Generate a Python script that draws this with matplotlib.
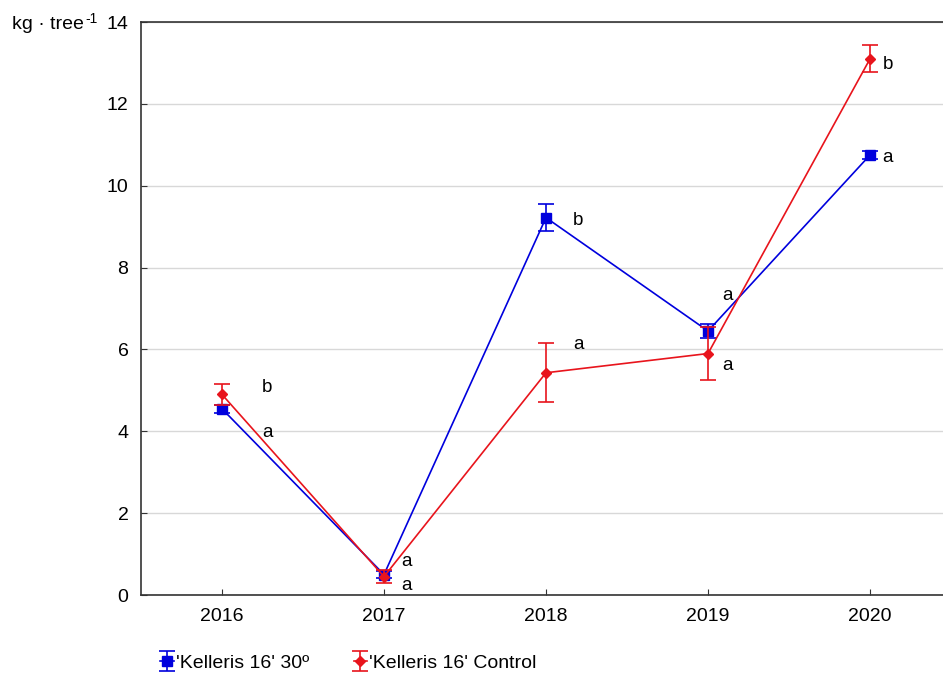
import matplotlib
matplotlib.use("Agg")
import matplotlib.pyplot as plt

plt.rcParams['font.family'] = ['Liberation Sans', 'DejaVu Sans']

years = [2016, 2017, 2018, 2019, 2020]
kel30 = [4.55, 0.50, 9.22, 6.45, 10.75]
kel30_err = [0.10, 0.08, 0.33, 0.17, 0.10]
ctrl = [4.90, 0.45, 5.43, 5.90, 13.10]
ctrl_err = [0.25, 0.15, 0.72, 0.65, 0.33]

labels30 = ['a', 'a', 'b', 'a', 'a']
labels_ctrl = ['b', 'a', 'a', 'a', 'b']
# letter positions (x offset from year, y value)
pos30 = [(0.28, 3.96), (0.14, 0.81), (0.20, 9.14), (0.12, 7.31), (0.11, 10.70)]
pos_ctrl = [(0.28, 5.08), (0.14, 0.24), (0.20, 6.11), (0.12, 5.60), (0.11, 12.95)]

fig = plt.figure(figsize=(9.43, 6.77), dpi=100)
ax = fig.add_axes([0.1495, 0.1211, 0.859, 0.8464])

blue = '#0000dd'
red = '#e8141c'

h1 = ax.errorbar(years, kel30, yerr=kel30_err, color=blue, marker='s', markersize=7,
                 lw=1.2, capsize=6, capthick=1.2, elinewidth=1.2,
                 label="'Kelleris 16' 30º", zorder=3)
h2 = ax.errorbar(years, ctrl, yerr=ctrl_err, color=red, marker='D', markersize=5,
                 lw=1.2, capsize=6, capthick=1.2, elinewidth=1.2,
                 label="'Kelleris 16' Control", zorder=4)

for y, lab, (dx, ly) in zip(years, labels30, pos30):
    ax.text(y + dx, ly, lab, fontsize=13.5, ha='center', va='center')
for y, lab, (dx, ly) in zip(years, labels_ctrl, pos_ctrl):
    ax.text(y + dx, ly, lab, fontsize=13.5, ha='center', va='center')

ax.set_xlim(2015.5, 2020.5)
ax.set_ylim(0, 14)
ax.set_xticks(years)
ax.set_yticks(range(0, 15, 2))
ax.tick_params(direction='in', labelsize=14, length=4, color='#333333')
ax.tick_params(axis='x', pad=9)
ax.tick_params(axis='y', pad=9)
ax.yaxis.grid(True, color='#d8d8d8', lw=1)
ax.set_axisbelow(True)
for s in ['left', 'bottom', 'top']:
    ax.spines[s].set_color('#333333')
    ax.spines[s].set_linewidth(1.2)
ax.spines['right'].set_visible(False)

fig.text(0.013, 0.964, 'kg · tree', fontsize=14, ha='left', va='center')
fig.text(0.0905, 0.972, '-1', fontsize=10, ha='left', va='center')

fig.legend(handles=[h1, h2], loc='center left', bbox_to_anchor=(0.1697, 0.021),
           ncol=2, frameon=False, fontsize=14, handlelength=0.7, handletextpad=0.1,
           columnspacing=2.3, borderaxespad=0, borderpad=0)

fig.savefig('out.png', dpi=100)
